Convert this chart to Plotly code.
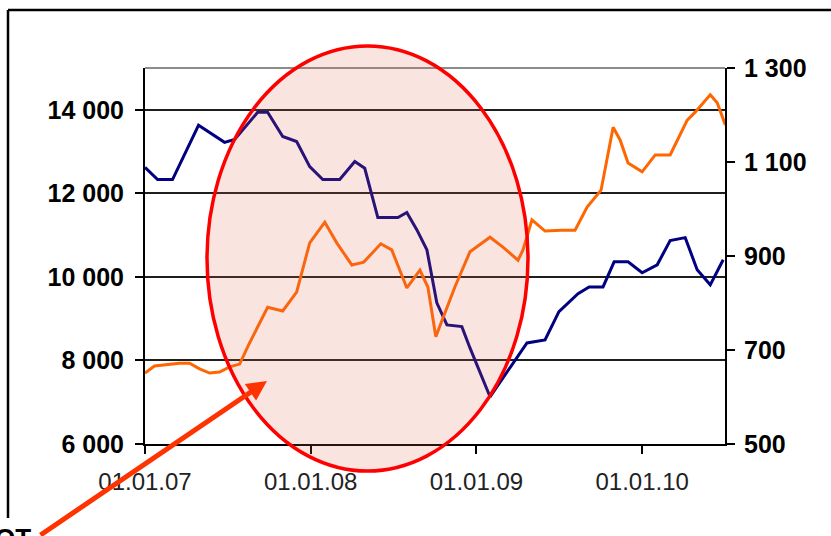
import plotly.graph_objects as go

# ---- data (decimal years) ----
blue_t = [2007.000, 2007.076, 2007.166, 2007.323, 2007.480, 2007.541, 2007.680, 2007.740,
          2007.831, 2007.915, 2007.994, 2008.073, 2008.175, 2008.266, 2008.326, 2008.405,
          2008.526, 2008.580, 2008.640, 2008.701, 2008.761, 2008.822, 2008.912, 2008.961,
          2009.082, 2009.221, 2009.305, 2009.414, 2009.498, 2009.613, 2009.680, 2009.764,
          2009.831, 2009.915, 2010.000, 2010.091, 2010.169, 2010.260, 2010.332, 2010.411,
          2010.489]
blue_v = [12620, 12330, 12330, 13630, 13220, 13290, 13940, 13940,
          13360, 13240, 12640, 12330, 12330, 12760, 12600, 11420,
          11420, 11540, 11130, 10650, 9380, 8850, 8810, 8300,
          7130, 7940, 8420, 8490, 9170, 9600, 9760, 9760,
          10360, 10360, 10100, 10290, 10870, 10940, 10170, 9810,
          10410]

orange_t = [2007.000, 2007.057, 2007.208, 2007.269, 2007.329, 2007.390, 2007.450, 2007.511,
            2007.571, 2007.631, 2007.740, 2007.831, 2007.915, 2007.994, 2008.085, 2008.157,
            2008.248, 2008.320, 2008.423, 2008.489, 2008.580, 2008.659, 2008.707, 2008.755,
            2008.798, 2008.870, 2008.961, 2009.082, 2009.160, 2009.251, 2009.281, 2009.335,
            2009.414, 2009.511, 2009.595, 2009.668, 2009.752, 2009.795, 2009.825, 2009.867,
            2009.915, 2010.000, 2010.079, 2010.169, 2010.272, 2010.320, 2010.411, 2010.453,
            2010.502]
orange_v = [651, 666, 672, 672, 660, 651, 653, 664,
            670, 715, 791, 783, 823, 928, 972, 928,
            881, 887, 926, 913, 832, 870, 834, 728,
            768, 834, 909, 940, 919, 891, 913, 977,
            953, 955, 955, 1004, 1040, 1119, 1174, 1147,
            1098, 1079, 1115, 1115, 1189, 1206, 1243, 1226,
            1179]

x_tickvals = [2007, 2008, 2009, 2010]
x_ticktext = ["01.01.07", "01.01.08", "01.01.09", "01.01.10"]
left_tickvals = [6000, 8000, 10000, 12000, 14000]
left_ticktext = ["6 000", "8 000", "10 000", "12 000", "14 000"]
right_tickvals = [500, 700, 900, 1100, 1300]
right_ticktext = ["500", "700", "900", "1 100", "1 300"]

W, H = 831, 536
L, R, T, B = 145, 106, 68, 92
PW, PH = W - L - R, H - T - B

def px(x):
    return (x - L) / PW

def py(y):
    return (H - B - y) / PH

fig = go.Figure()
fig.add_trace(go.Scatter(x=orange_t, y=orange_v, mode="lines", yaxis="y2",
                         line=dict(color="#FF6600", width=3), showlegend=False))
fig.add_trace(go.Scatter(x=blue_t, y=blue_v, mode="lines", yaxis="y",
                         line=dict(color="#000080", width=3), showlegend=False))

font = "Liberation Sans, Arial, sans-serif"
fig.update_layout(
    width=W, height=H,
    margin=dict(l=L, r=R, t=T, b=B, pad=0),
    paper_bgcolor="white", plot_bgcolor="white",
    xaxis=dict(range=[2007, 2010.5], tickvals=x_tickvals, ticktext=x_ticktext,
               showgrid=False, zeroline=False, showline=True, linecolor="black", linewidth=2,
               ticks="outside", ticklen=8, tickwidth=2, tickcolor="black",
               tickfont=dict(family=font, size=24, color="#222"), ticklabelstandoff=7),
    yaxis=dict(range=[6000, 15000], tickvals=left_tickvals, ticktext=left_ticktext,
               showgrid=True, gridcolor="#1e1e1e", gridwidth=2, zeroline=False,
               showline=True, linecolor="black", linewidth=2,
               ticks="outside", ticklen=8, tickwidth=2, tickcolor="black",
               tickfont=dict(family=font, size=25, color="black", weight="bold"),
               ticklabelstandoff=6),
    yaxis2=dict(range=[500, 1300], tickvals=right_tickvals, ticktext=right_ticktext,
                overlaying="y", side="right", showgrid=False, zeroline=False,
                showline=True, linecolor="black", linewidth=2,
                ticks="outside", ticklen=8, tickwidth=2, tickcolor="black",
                tickfont=dict(family=font, size=25, color="black", weight="bold"),
                ticklabelstandoff=4),
)

shapes = [
    # top border of plot area
    dict(type="line", xref="paper", yref="paper", x0=0, x1=1, y0=1, y1=1,
         line=dict(color="#666", width=1.5), layer="below"),
    # outer frame (top and left)
    dict(type="line", xref="paper", yref="paper", x0=px(8), x1=px(900), y0=py(10), y1=py(10),
         line=dict(color="black", width=2.5)),
    dict(type="line", xref="paper", yref="paper", x0=px(8), x1=px(8), y0=py(10), y1=py(518),
         line=dict(color="black", width=2.5)),
    # highlighted ellipse
    dict(type="circle", xref="paper", yref="paper", x0=px(207), x1=px(528), y0=py(471), y1=py(46),
         fillcolor="rgba(225,105,85,0.18)", line=dict(color="#FF0000", width=3.5), layer="above"),
]
fig.update_layout(shapes=shapes)

fig.add_annotation(xref="paper", yref="paper", x=px(267), y=py(381), ax=-228, ay=162,
                   text="", showarrow=True, arrowhead=2, arrowsize=0.8, arrowwidth=5,
                   arrowcolor="#FF3300")
fig.add_annotation(xref="paper", yref="paper", x=px(33), y=py(521), xanchor="right", yanchor="top",
                   text="<b>ОТ</b>", showarrow=False,
                   font=dict(family=font, size=26, color="black"))

fig.write_html("out.html", config={"displayModeBar": False})

# remove the default page margin so the figure sits at the window's top-left corner
with open("out.html", "r", encoding="utf-8") as f:
    html = f.read()
html = html.replace("<head>", "<head><style>html,body{margin:0;padding:0;overflow:hidden}</style>", 1)
with open("out.html", "w", encoding="utf-8") as f:
    f.write(html)
